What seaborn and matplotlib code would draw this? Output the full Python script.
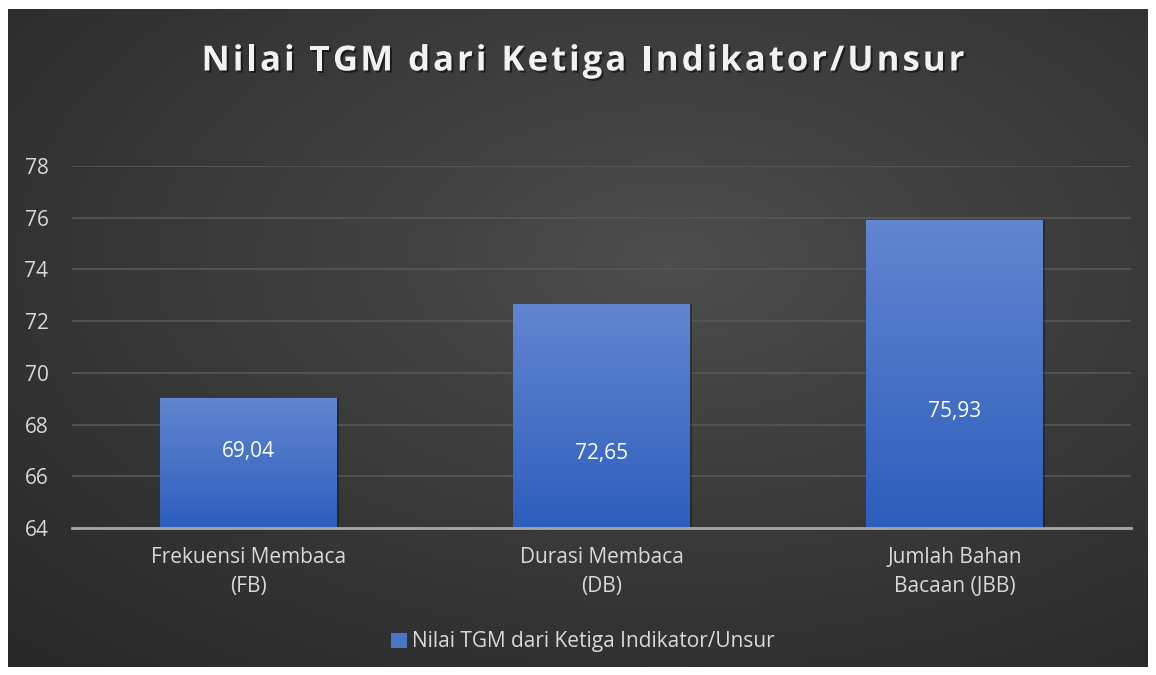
import numpy as np
import pandas as pd
import seaborn as sns
import matplotlib.pyplot as plt
from matplotlib import patheffects as pe
from matplotlib.patches import Rectangle
from matplotlib.font_manager import FontProperties

# ---- data ----
categories = ["Frekuensi Membaca\n(FB)", "Durasi Membaca\n(DB)", "Jumlah Bahan\nBacaan (JBB)"]
values = [69.04, 72.65, 75.93]
value_labels = ["69,04", "72,65", "75,93"]
label_y = [66.95, 66.9, 68.5]
yticks = [64, 66, 68, 70, 72, 74, 76, 78]
series_name = "Nilai TGM dari Ketiga Indikator/Unsur"
title = "Nilai TGM dari Ketiga Indikator/Unsur"

df = pd.DataFrame({"kategori": categories, "nilai": values})

sns.set_theme(style="dark")
plt.rcParams['font.family'] = ['Open Sans', 'DejaVu Sans']

W, H = 1156, 675
fig = plt.figure(figsize=(W / 100, H / 100), dpi=100, facecolor='white')

# dark gradient background panel
bg = fig.add_axes([8 / W, 1 - 667 / H, 1140 / W, 658 / H])
h, w = 330, 570
yy, xx = np.mgrid[0:h, 0:w]
cx, cy = 0.58 * w, 0.38 * h
d = np.sqrt(((xx - cx) / w) ** 2 + ((yy - cy) / h) ** 2)
d = d / d.max()
v = 0.305 - 0.15 * d ** 0.9
bg.imshow(np.dstack([v, v, v]), aspect='auto', extent=[0, 1, 0, 1], origin='upper')
bg.set_axis_off()

# main axes
ax = fig.add_axes([72 / W, 1 - 528 / H, (1131 - 72) / W, (528 - 166) / H])
ax.patch.set_alpha(0)
sns.barplot(data=df, x="kategori", y="nilai", width=0.5, color="#4472c4", ax=ax, zorder=3)
ax.set_ylim(64, 78)
ax.set_xlim(-0.5, 2.5)
ax.set_yticks(yticks)
ax.set_xlabel("")
ax.set_ylabel("")

# gradient fill of bars
grad = np.linspace(0, 1, 256)[:, None]
top = np.array([0x62, 0x86, 0xd0]) / 255
bot = np.array([0x2d, 0x5e, 0xbd]) / 255
gimg = (top[None, None, :] * (1 - grad[..., None]) + bot[None, None, :] * grad[..., None])
for p in ax.patches:
    x0, bw, ht = p.get_x(), p.get_width(), p.get_height()
    sh = Rectangle((x0 + 0.007, 64), bw, ht - 64, facecolor='black', alpha=0.3,
                   edgecolor='none', zorder=2)
    ax.add_patch(sh)
    im = ax.imshow(gimg, extent=[x0, x0 + bw, 64, ht], aspect='auto', zorder=3.5,
                   origin='upper')
    im.set_clip_path(p)
    p.set_facecolor('none')
    p.set_edgecolor('none')
ax.set_xlim(-0.5, 2.5)
ax.set_ylim(64, 78)

for i, (lab, ly) in enumerate(zip(value_labels, label_y)):
    ax.text(i, ly, lab, ha='center', va='center', color='white', fontsize=15, zorder=5)

ax.yaxis.grid(True, color='#555555', linewidth=1.3, zorder=0)
ax.xaxis.grid(False)
for s in ['top', 'right', 'left']:
    ax.spines[s].set_visible(False)
ax.spines['bottom'].set_color('#a6a6a6')
ax.spines['bottom'].set_linewidth(2)
ax.spines['bottom'].set_zorder(6)
ax.tick_params(axis='both', length=0, colors='#d9d9d9', labelsize=15)
ax.tick_params(axis='x', pad=14)
ax.tick_params(axis='y', pad=17)
for t in ax.get_xticklabels():
    t.set_linespacing(1.45)

# letter-spaced title
renderer = fig.canvas.get_renderer()
fp = FontProperties(family=['Open Sans', 'DejaVu Sans'], weight='bold', size=25)
spacing = 3.0  # px between letters
def text_w(s):
    if not s:
        return 0.0
    wdt, _, _ = renderer.get_text_width_height_descent(s, fp, ismath=False)
    return wdt
total = text_w(title) + spacing * (len(title) - 1)
x_start = 583 - total / 2
y_px = 1 - 57 / H
shadow = [pe.withSimplePatchShadow(offset=(1.5, -1.5), shadow_rgbFace='black', alpha=0.5)]
for i, ch in enumerate(title):
    if ch == ' ':
        continue
    xpx = x_start + text_w(title[:i]) + spacing * i
    fig.text(xpx / W, y_px, ch, ha='left', va='center_baseline', fontproperties=fp,
             color='#f2f2f2', path_effects=shadow)

handle = Rectangle((0, 0), 1, 1, facecolor='#4a76c8', edgecolor='none')
leg = fig.legend([handle], [series_name], loc='center', bbox_to_anchor=(583 / W, 1 - 642 / H),
                 frameon=False, handlelength=0.75, handleheight=0.75, handletextpad=0.25,
                 fontsize=15)
for t in leg.get_texts():
    t.set_color('#d9d9d9')

fig.savefig("out.png", dpi=100, facecolor='white')
